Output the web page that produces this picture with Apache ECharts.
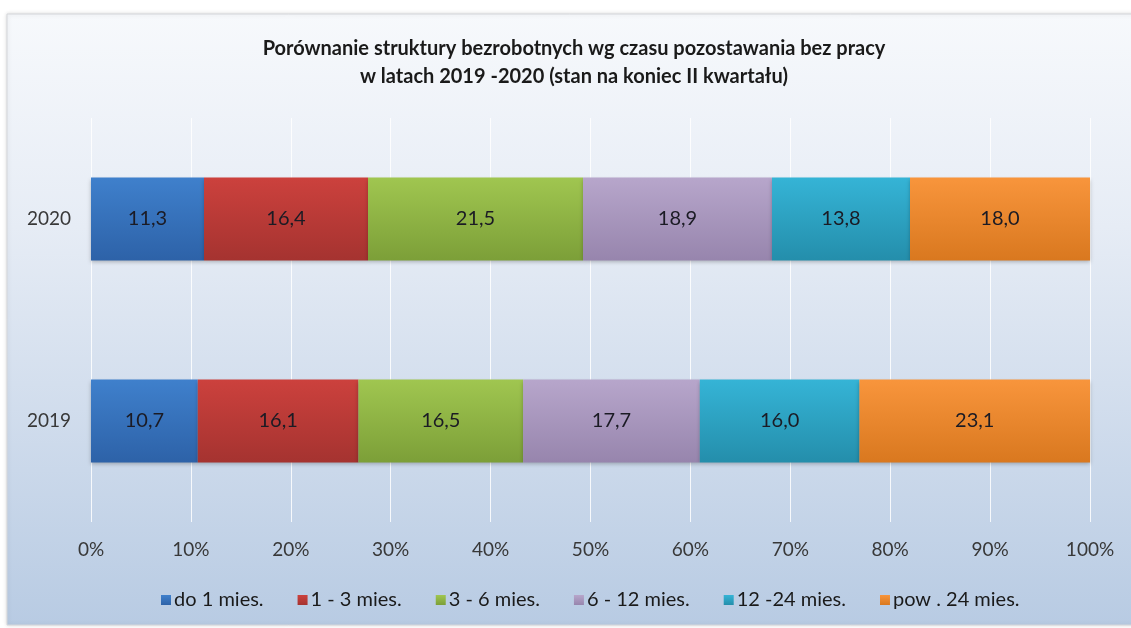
<!DOCTYPE html>
<html>
<head>
<meta charset="utf-8">
<script src="https://cdn.jsdelivr.net/npm/echarts@6/dist/echarts.min.js"></script>
<style>
  html, body { margin: 0; padding: 0; background: #fff; }
  #main { width: 1131px; height: 628px; }
</style>
</head>
<body>
<div id="main"></div>
<script>
// lata (oś kategorii, od dołu)
const years = ['2019', '2020']
// grupy czasu pozostawania bez pracy
const groups = ['do 1 mies.', '1 - 3 mies.', '3 - 6 mies.', '6 - 12 mies.', '12 -24 mies.', 'pow . 24 mies.']
// udziały w % (wiersz = grupa, kolumny = 2019, 2020)
const share2019 = [10.7, 16.1, 16.5, 17.7, 16.0, 23.1]
const share2020 = [11.3, 16.4, 21.5, 18.9, 13.8, 18.0]
const xTicks = [0, 10, 20, 30, 40, 50, 60, 70, 80, 90, 100]

// kolory słupków: góra / dół gradientu
const colorsTop = ['#3f80cc', '#cc413d', '#a0c650', '#b7a6cb', '#35b4d6', '#f8953c']
const colorsBottom = ['#2d62a8', '#a53330', '#7c9f38', '#9785ad', '#248eab', '#d9781f']

const sum2019 = share2019.reduce((a, b) => a + b, 0)
const sum2020 = share2020.reduce((a, b) => a + b, 0)

const series = groups.map((name, i) => ({
  name: name,
  type: 'bar',
  stack: 'total',
  barWidth: '41%',
  // Excel 100% stacked: normalizacja do 100
  data: [
    { value: share2019[i] / sum2019 * 100, raw: share2019[i] },
    { value: share2020[i] / sum2020 * 100, raw: share2020[i] }
  ],
  itemStyle: {
    color: new echarts.graphic.LinearGradient(0, 0, 0, 1, [
      { offset: 0, color: colorsTop[i] },
      { offset: 1, color: colorsBottom[i] }
    ]),
    shadowColor: 'rgba(0,0,0,0.25)',
    shadowBlur: 4,
    shadowOffsetY: 2
  },
  label: {
    show: true,
    position: 'inside',
    fontFamily: 'Lato, "Open Sans", sans-serif',
    fontSize: 20,
    color: '#1b1b24',
    formatter: (p) => p.data.raw.toFixed(1).replace('.', ',')
  }
}))

const myChart = echarts.init(document.getElementById('main'))
myChart.setOption({
  animation: false,
  color: colorsTop,
  textStyle: { fontFamily: 'Lato, "Open Sans", sans-serif' },
  graphic: [{
    type: 'rect',
    z: -10,
    silent: true,
    shape: { x: 7, y: 14, width: 1130, height: 611 },
    style: {
      fill: new echarts.graphic.LinearGradient(0, 0, 0, 1, [
        { offset: 0, color: '#f7f9fc' },
        { offset: 0.35, color: '#e6ecf5' },
        { offset: 1, color: '#b8cbe3' }
      ]),
      stroke: '#d4d6da',
      lineWidth: 1,
      shadowColor: 'rgba(0,0,0,0.15)',
      shadowBlur: 4
    }
  }],
  title: {
    text: 'Porównanie struktury bezrobotnych wg czasu pozostawania bez pracy\nw latach 2019 -2020 (stan na koniec II kwartału)',
    left: 569,
    textAlign: 'center',
    top: 30,
    textStyle: {
      fontFamily: 'Lato, "Open Sans", sans-serif',
      fontSize: 20,
      fontWeight: 'bold',
      color: '#1a1a1a',
      lineHeight: 28
    }
  },
  legend: {
    data: groups,
    bottom: 13,
    left: 156,
    itemWidth: 10,
    itemHeight: 10,
    itemGap: 34,
    icon: 'rect',
    textStyle: { fontSize: 20, color: '#1a1a1a', padding: [0, 0, 0, -2] }
  },
  grid: { left: 91, right: 41, top: 118, bottom: 106, containLabel: false },
  xAxis: {
    type: 'value',
    min: 0,
    max: 100,
    interval: 10,
    axisLine: { show: false },
    axisTick: { show: false },
    axisLabel: {
      fontSize: 19,
      color: '#383838',
      margin: 18,
      formatter: (v) => xTicks.includes(v) ? v + '%' : ''
    },
    splitLine: { show: true, lineStyle: { color: 'rgba(255,255,255,0.85)', width: 1 } }
  },
  yAxis: {
    type: 'category',
    data: years,
    axisLine: { show: false },
    axisTick: { show: false },
    axisLabel: { fontSize: 19, color: '#383838', margin: 20 }
  },
  series: series
})
</script>
</body>
</html>
